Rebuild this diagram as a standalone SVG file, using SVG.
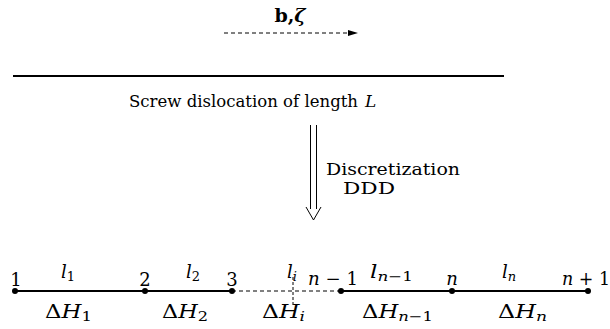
<svg xmlns="http://www.w3.org/2000/svg" width="610" height="329" viewBox="0 0 610 329" font-family="'DejaVu Serif', serif">
<style>
text{font-family:"DejaVu Serif",serif;fill:#000;}
.t{font-size:17px;}
.m{font-size:18px;font-style:italic;}
.r{font-size:18px;}
.s{font-size:13px;}
.dot{fill:#000;}
</style>
<defs>
<marker id="ah" markerWidth="10" markerHeight="8" refX="9" refY="4" orient="auto" markerUnits="userSpaceOnUse">
<path d="M0,1 L10,4 L0,7 Z" fill="#000"/>
</marker>
</defs>
<g id="top-label">
<text x="290" y="22" text-anchor="middle" font-size="19" font-weight="bold">b,<tspan font-style="italic">ζ</tspan></text>
</g>
<g id="dislocation">
<line x1="13" y1="76" x2="504" y2="76" stroke="#000" stroke-width="2.2"/>
<text class="t" x="129" y="107" textLength="229" lengthAdjust="spacingAndGlyphs">Screw dislocation of length</text>
<text class="t" x="365" y="107" font-style="italic">L</text>
</g>
<g id="discretization">
<text class="t" x="326" y="175" textLength="134" lengthAdjust="spacingAndGlyphs">Discretization</text>
<text class="t" x="343" y="194" textLength="52" lengthAdjust="spacingAndGlyphs">DDD</text>
</g>
<g id="connectors">
<line x1="224" y1="33" x2="357" y2="33" stroke="#000" stroke-width="1" stroke-dasharray="4,3" marker-end="url(#ah)"/>
<path d="M310.5,125 V209 M316.5,125 V209 M306,207 L313.5,220 L321,207" fill="none" stroke="#000" stroke-width="1"/>
</g>
<g id="chain">
<line x1="15" y1="291" x2="232" y2="291" stroke="#000" stroke-width="2.2"/>
<line x1="232" y1="291" x2="341" y2="291" stroke="#000" stroke-width="1" stroke-dasharray="4,3"/>
<line x1="341" y1="291" x2="588" y2="291" stroke="#000" stroke-width="2.2"/>
<line x1="293" y1="277" x2="293" y2="306" stroke="#000" stroke-width="1" stroke-dasharray="3,2"/>
<circle class="dot" cx="15" cy="291" r="3"/>
<circle class="dot" cx="145" cy="291" r="3"/>
<circle class="dot" cx="232" cy="291" r="3"/>
<circle class="dot" cx="341" cy="291" r="3"/>
<circle class="dot" cx="452" cy="291" r="3"/>
<circle class="dot" cx="588" cy="291" r="3"/>
</g>
<g id="labels">
<text class="r" x="16" y="286" text-anchor="middle">1</text>
<text class="r" x="145" y="286" text-anchor="middle">2</text>
<text class="r" x="232" y="286" text-anchor="middle">3</text>
<text class="r" x="308" y="285" textLength="50" lengthAdjust="spacingAndGlyphs"><tspan font-style="italic">n</tspan> − 1</text>
<text class="m" x="452" y="285" text-anchor="middle">n</text>
<text class="r" x="562" y="285" textLength="48" lengthAdjust="spacingAndGlyphs"><tspan font-style="italic">n</tspan> + 1</text>
<text class="m" x="61" y="278">l<tspan class="s" font-style="normal" dy="3">1</tspan></text>
<text class="m" x="186" y="278">l<tspan class="s" font-style="normal" dy="3">2</tspan></text>
<text class="m" x="287" y="278">l<tspan class="s" dy="3">i</tspan></text>
<text class="m" x="370" y="278" textLength="43" lengthAdjust="spacingAndGlyphs">l<tspan class="s" dy="3">n</tspan><tspan class="s" font-style="normal">−1</tspan></text>
<text class="m" x="502" y="278">l<tspan class="s" dy="3">n</tspan></text>
<text class="r" x="45" y="318" textLength="47" lengthAdjust="spacingAndGlyphs">Δ<tspan font-style="italic">H</tspan><tspan class="s" dy="3">1</tspan></text>
<text class="r" x="162" y="318" textLength="46" lengthAdjust="spacingAndGlyphs">Δ<tspan font-style="italic">H</tspan><tspan class="s" dy="3">2</tspan></text>
<text class="r" x="262" y="318" textLength="43" lengthAdjust="spacingAndGlyphs">Δ<tspan font-style="italic">H</tspan><tspan class="s" font-style="italic" dy="3">i</tspan></text>
<text class="r" x="362" y="318" textLength="71" lengthAdjust="spacingAndGlyphs">Δ<tspan font-style="italic">H</tspan><tspan class="s" font-style="italic" dy="3">n</tspan><tspan class="s">−1</tspan></text>
<text class="r" x="498" y="318" textLength="49" lengthAdjust="spacingAndGlyphs">Δ<tspan font-style="italic">H</tspan><tspan class="s" font-style="italic" dy="3">n</tspan></text>
</g>
</svg>
